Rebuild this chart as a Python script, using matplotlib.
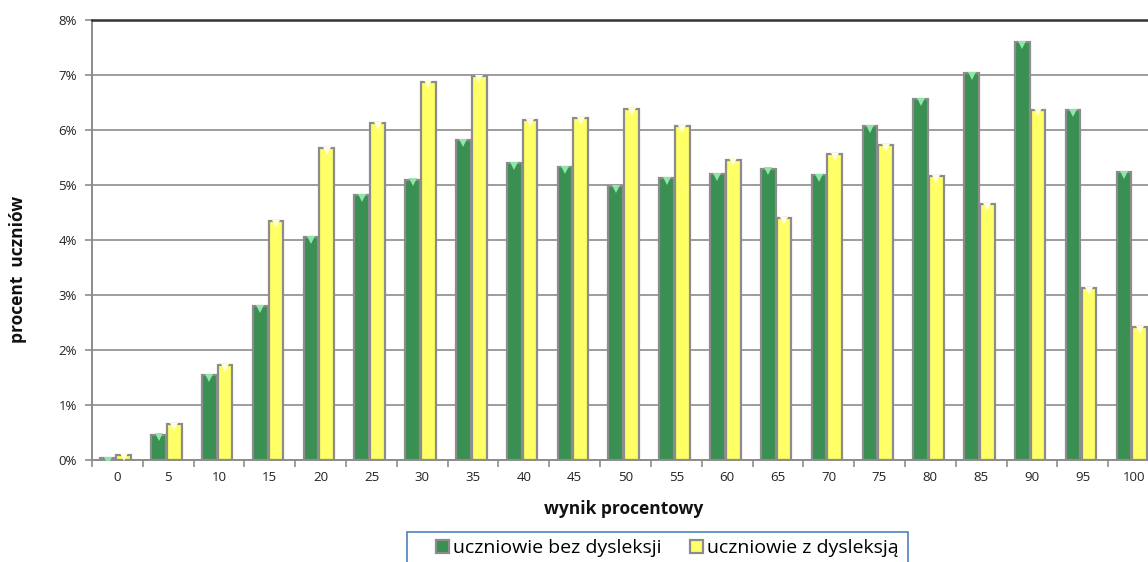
import matplotlib.pyplot as plt
import numpy as np
from matplotlib.patches import Rectangle
from matplotlib.ticker import FixedLocator, FuncFormatter

plt.rcParams['font.family'] = ['Open Sans', 'DejaVu Sans']

# wynik procentowy (kategorie) i odsetek uczniow w %
wyniki = ['0', '5', '10', '15', '20', '25', '30', '35', '40', '45', '50',
          '55', '60', '65', '70', '75', '80', '85', '90', '95', '100']
bez_dysleksji = [0.03, 0.46, 1.55, 2.8, 4.05, 4.82, 5.1, 5.82, 5.4, 5.32, 4.98,
                 5.13, 5.2, 5.3, 5.18, 6.07, 6.56, 7.03, 7.6, 6.36, 5.23]
z_dysleksja = [0.1, 0.65, 1.72, 4.35, 5.67, 6.12, 6.88, 6.98, 6.18, 6.22, 6.38,
               6.07, 5.46, 4.4, 5.56, 5.72, 5.16, 4.65, 6.37, 3.13, 2.42]

W, H = 1148, 562
fig = plt.figure(figsize=(W / 100, H / 100), dpi=100)
ax = fig.add_axes([92 / W, 1 - 460 / H, 1067 / W, 440 / H])

x = np.arange(len(wyniki))
w = 0.29
green = '#3a8f52'
yellow = '#ffff66'
edge = '#8c8c8c'

ax.bar(x - 0.19, bez_dysleksji, w, color=green, edgecolor=edge, linewidth=1.6,
       zorder=3, label='uczniowie bez dysleksji')
ax.bar(x + 0.12, z_dysleksja, w, color=yellow, edgecolor=edge, linewidth=1.6,
       zorder=3, label='uczniowie z dysleksją')

# light bevel on top of the bars
ax.plot(x - 0.19, np.array(bez_dysleksji) - 0.05, 'v', color='#8ee6a8',
        markersize=6, markeredgewidth=0, zorder=4)
ax.plot(x + 0.12, np.array(z_dysleksja) - 0.05, 'v', color='#ffffdd',
        markersize=6, markeredgewidth=0, zorder=4)

ax.set_xlim(-0.5, len(wyniki) - 0.5)
ax.set_ylim(0, 8)

ax.set_yticks(range(0, 9))
ax.yaxis.set_major_formatter(FuncFormatter(lambda v, p: f'{int(v)}%'))
ax.yaxis.grid(True, color='#8c8c8c', linewidth=1.2, zorder=0)
ax.set_axisbelow(True)

ax.set_xticks(x)
ax.set_xticklabels(wyniki)
ax.xaxis.set_minor_locator(FixedLocator(np.arange(-0.5, len(wyniki), 1)))
ax.tick_params(axis='x', which='major', length=0, pad=8, labelsize=9.5,
               labelcolor='#222222')
ax.tick_params(axis='x', which='minor', length=5, color='#8c8c8c', width=1.2)
ax.tick_params(axis='y', length=5, color='#8c8c8c', width=1.2, labelsize=9.5,
               labelcolor='#222222', pad=6)

for s in ['left', 'bottom']:
    ax.spines[s].set_color('#8c8c8c')
    ax.spines[s].set_linewidth(1.4)
ax.spines['right'].set_visible(False)
ax.spines['top'].set_color('#333333')
ax.spines['top'].set_linewidth(1.8)

fig.text(624 / W, 1 - 509 / H, 'wynik procentowy', ha='center', va='center',
         fontsize=12.5, fontweight='bold', color='#111111')
fig.text(18 / W, 1 - 269 / H, 'procent  uczniów', ha='center', va='center',
         rotation=90, fontsize=12.5, fontweight='bold', color='#111111')

# legend box (cut off by the bottom edge, as in the original)
fig.patches.append(Rectangle((407 / W, 1 - 575 / H), 501 / W, 43 / H,
                             transform=fig.transFigure, facecolor='white',
                             edgecolor='#4f81bd', linewidth=1.2))
fig.legend(loc='center left', bbox_to_anchor=(436 / W, 1 - 548 / H),
           ncol=2, frameon=False, fontsize=14,
           handlelength=0.65, handleheight=0.65, handletextpad=0.2,
           columnspacing=1.5, borderpad=0, borderaxespad=0)

fig.savefig('out.png', dpi=100)
